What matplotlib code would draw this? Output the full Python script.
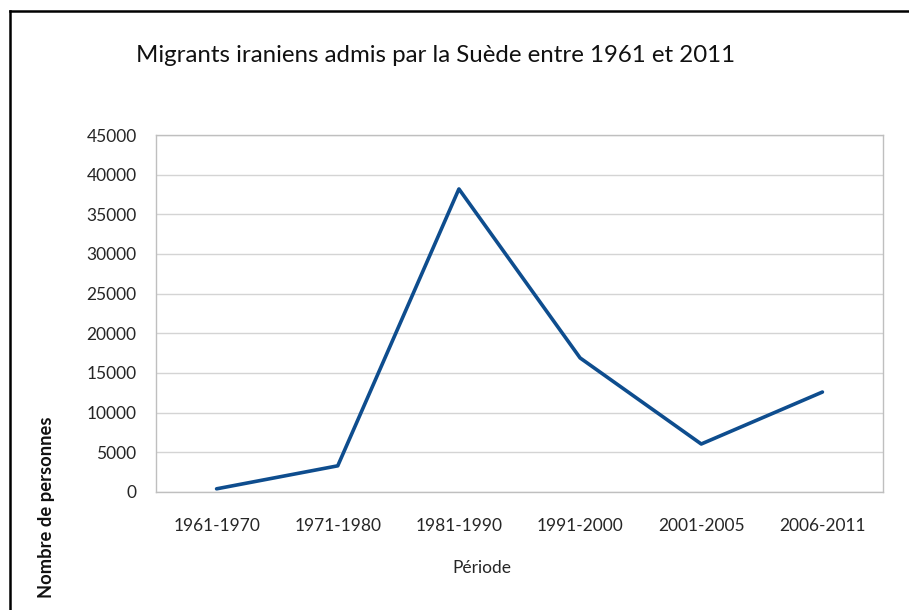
import matplotlib
matplotlib.use("Agg")
import matplotlib.pyplot as plt
from matplotlib.lines import Line2D

periodes = ["1961-1970", "1971-1980", "1981-1990", "1991-2000", "2001-2005", "2006-2011"]
migrants = [400, 3300, 38200, 16900, 6050, 12600]
yticks = [0, 5000, 10000, 15000, 20000, 25000, 30000, 35000, 40000, 45000]

plt.rcParams['font.family'] = ['Lato', 'DejaVu Sans']

W, H = 909, 610
fig = plt.figure(figsize=(W / 100, H / 100), dpi=100)
ax = fig.add_axes([156 / W, 1 - 492 / H, 727 / W, 357 / H])

x = list(range(len(periodes)))
ax.plot(x, migrants, color="#0E4D8E", lw=2.6, solid_capstyle="round", zorder=3)

ax.set_xlim(-0.5, len(periodes) - 0.5)
ax.set_ylim(0, 45000)
ax.set_yticks(yticks)
ax.set_yticklabels([str(v) for v in yticks])
ax.set_xticks(x)
ax.set_xticklabels(periodes)
ax.tick_params(axis="both", length=0, labelsize=12.5, colors="#262626")
ax.tick_params(axis="y", pad=14)
ax.tick_params(axis="x", pad=19)
ax.grid(axis="y", color="#D4D4D4", lw=1)
ax.set_axisbelow(True)
for s in ax.spines.values():
    s.set_color("#BFBFBF")
    s.set_linewidth(1)

fig.text(436 / W, 1 - 55 / H, "Migrants iraniens admis par la Suède entre 1961 et 2011",
         ha="center", va="center", fontsize=17.3, color="#111111")
fig.text(482 / W, 1 - 568 / H, "Période", ha="center", va="center", fontsize=12.5, color="#262626")
fig.text(47 / W, 1 - 507 / H, "Nombre de personnes", rotation=90, ha="center", va="center",
         fontsize=13.2, fontweight="bold", color="#111111")

# black frame (left and top edges visible)
fig.add_artist(Line2D([9.5 / W, 9.5 / W], [0, 1 - 11 / H], color="black", lw=1.8,
                      transform=fig.transFigure))
fig.add_artist(Line2D([9.5 / W, 1], [1 - 11 / H, 1 - 11 / H], color="black", lw=1.8,
                      transform=fig.transFigure))

fig.savefig("out.png", dpi=100)
